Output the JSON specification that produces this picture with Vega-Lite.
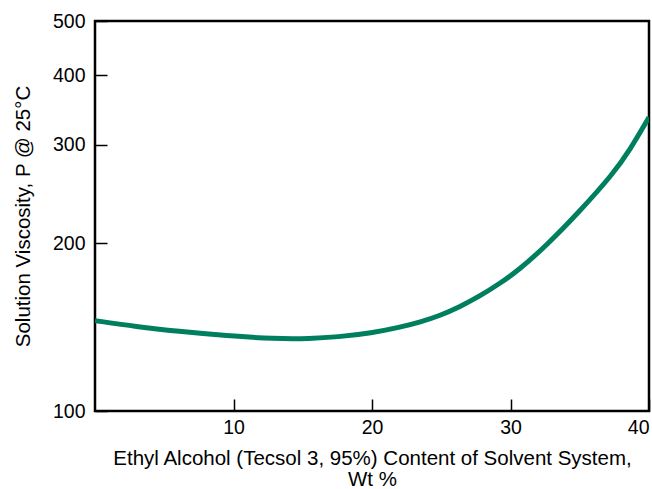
{
  "$schema": "https://vega.github.io/schema/vega-lite/v6.json",
  "width": 554,
  "height": 390,
  "autosize": {"type": "none"},
  "padding": {"left": 95, "top": 21, "right": 3, "bottom": 78},
  "background": "white",
  "config": {
    "view": {"stroke": "black", "strokeWidth": 2.5},
    "font": "Liberation Sans",
    "axis": {
      "domain": false,
      "grid": false,
      "tickColor": "black",
      "tickSize": -12,
      "tickWidth": 1.5,
      "labelColor": "black",
      "labelFont": "Liberation Sans",
      "labelFontSize": 19.5,
      "titleFont": "Liberation Sans",
      "titleFontSize": 20.5,
      "titleFontWeight": "normal",
      "titleColor": "black"
    }
  },
  "data": {
    "values": [
      {"x": 0, "y": 145.2},
      {"x": 3, "y": 141.6},
      {"x": 6, "y": 138.9},
      {"x": 9.5, "y": 136.4},
      {"x": 13, "y": 134.7},
      {"x": 15.5, "y": 134.8},
      {"x": 17.5, "y": 135.7},
      {"x": 20, "y": 138.0},
      {"x": 22, "y": 141.2},
      {"x": 23.5, "y": 144.4},
      {"x": 24.9, "y": 148.2},
      {"x": 26.35, "y": 153.8},
      {"x": 27.8, "y": 160.7},
      {"x": 29.25, "y": 169.4},
      {"x": 30.55, "y": 178.5},
      {"x": 32.6, "y": 198},
      {"x": 35, "y": 228},
      {"x": 37.4, "y": 266},
      {"x": 38.6, "y": 293},
      {"x": 40, "y": 336}
    ]
  },
  "mark": {"type": "line", "color": "#007f5f", "strokeWidth": 5, "interpolate": "basis", "clip": true},
  "encoding": {
    "x": {
      "field": "x",
      "type": "quantitative",
      "scale": {"domain": [0, 40], "nice": false, "zero": false},
      "axis": {
        "values": [10, 20, 30, 40],
        "labelFlush": true,
        "labelPadding": 19,
        "title": ["Ethyl Alcohol (Tecsol 3, 95%) Content of Solvent System,", "Wt %"],
        "titlePadding": 12,
        "titleLineHeight": 21
      }
    },
    "y": {
      "field": "y",
      "type": "quantitative",
      "scale": {"type": "log", "domain": [100, 500], "nice": false},
      "axis": {
        "values": [100, 200, 300, 400, 500],
        "labelPadding": 22,
        "title": "Solution Viscosity, P @ 25°C",
        "titlePadding": 19
      }
    }
  }
}
